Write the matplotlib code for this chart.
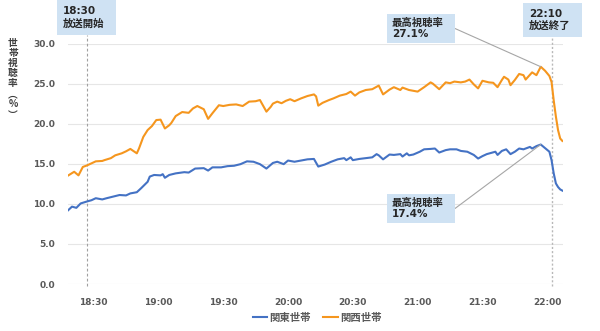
import numpy as np
import matplotlib.pyplot as plt
from matplotlib.patches import Rectangle

plt.rcParams['font.family'] = ['Noto Sans CJK JP', 'DejaVu Sans']

# 18:00からの経過時間(分)と世帯視聴率(%)
kanto_min = [18, 20, 22, 24, 27, 29, 31, 34, 36, 39, 42, 45, 47, 50, 52, 55, 56, 58,
             61, 62, 63, 65, 68, 72, 74, 77, 81, 83, 85, 89, 92, 95, 98, 101, 104,
             107, 110, 113, 115, 118, 120, 123, 126, 129, 132, 134, 137, 140, 143,
             146, 147, 149, 150, 153, 156, 159, 161, 162, 164, 167, 169, 172, 173,
             175, 176, 178, 181, 183, 186, 188, 190, 193, 195, 198, 200, 203, 206,
             208, 210, 212, 214, 216, 217, 219, 221, 223, 225, 227, 229, 232, 233,
             235, 237, 239, 241, 242, 243, 244, 245, 246, 247]
kanto_rate = [9.15, 9.65, 9.5, 10.05, 10.3, 10.45, 10.7, 10.55, 10.7, 10.9, 11.1, 11.05,
              11.3, 11.45, 11.95, 12.75, 13.4, 13.6, 13.55, 13.7, 13.25, 13.6, 13.8,
              13.95, 13.9, 14.4, 14.45, 14.15, 14.55, 14.55, 14.7, 14.75, 14.95, 15.3,
              15.25, 14.95, 14.4, 15.1, 15.25, 14.95, 15.4, 15.25, 15.4, 15.55, 15.6,
              14.65, 14.9, 15.25, 15.55, 15.7, 15.45, 15.8, 15.45, 15.6, 15.7, 15.8,
              16.2, 16.05, 15.55, 16.15, 16.1, 16.2, 15.9, 16.3, 16.05, 16.15, 16.5,
              16.8, 16.85, 16.9, 16.4, 16.7, 16.8, 16.8, 16.6, 16.5, 16.1, 15.65, 15.95,
              16.2, 16.35, 16.5, 16.1, 16.6, 16.8, 16.2, 16.5, 16.9, 16.8, 17.1, 16.9,
              17.2, 17.4, 16.95, 16.5, 15.45, 13.8, 12.55, 12.1, 11.8, 11.65]

kansai_min = [18, 21, 23, 25, 27, 29, 31, 34, 35, 38, 40, 43, 45, 47, 50, 51, 53, 55,
              57, 59, 61, 63, 65, 66, 68, 71, 74, 76, 78, 81, 83, 85, 88, 90, 93, 96,
              99, 102, 105, 107, 110, 112, 113, 115, 117, 119, 121, 123, 126, 129, 132,
              133, 134, 136, 139, 141, 144, 147, 149, 151, 153, 156, 159, 162, 164, 167,
              169, 172, 173, 176, 178, 180, 183, 186, 187, 190, 193, 195, 197, 200, 202,
              204, 206, 208, 210, 213, 215, 217, 219, 220, 222, 223, 225, 227, 229, 230,
              232, 233, 235, 237, 239, 241, 242, 243, 244, 245, 246, 247]
kansai_rate = [13.5, 14.0, 13.55, 14.6, 14.8, 15.05, 15.3, 15.35, 15.45, 15.7, 16.05,
               16.3, 16.55, 16.85, 16.3, 16.9, 18.35, 19.2, 19.7, 20.45, 20.5, 19.4,
               19.8, 20.1, 20.95, 21.45, 21.35, 21.9, 22.2, 21.8, 20.6, 21.3, 22.3, 22.2,
               22.35, 22.4, 22.2, 22.75, 22.8, 22.95, 21.5, 22.1, 22.5, 22.75, 22.55,
               22.85, 23.05, 22.8, 23.15, 23.45, 23.65, 23.4, 22.25, 22.6, 22.95, 23.15,
               23.5, 23.7, 24.0, 23.5, 23.9, 24.2, 24.3, 24.75, 23.65, 24.25, 24.55, 24.2,
               24.5, 24.2, 24.1, 24.0, 24.55, 25.15, 25.0, 24.3, 25.15, 25.05, 25.25,
               25.15, 25.25, 25.5, 24.9, 24.4, 25.35, 25.15, 25.1, 24.55, 25.45, 25.85,
               25.5, 24.8, 25.45, 26.2, 26.05, 25.5, 26.1, 26.4, 26.05, 27.1, 26.6, 25.95,
               25.2, 22.9, 20.9, 19.2, 18.15, 17.85]

tick_min = [30, 60, 90, 120, 150, 180, 210, 240]
tick_labels = ['18:30', '19:00', '19:30', '20:00', '20:30', '21:00', '21:30', '22:00']
y_ticks = [0, 5, 10, 15, 20, 25, 30]
ylabel_chars = ['世', '帯', '視', '聴', '率', '︵', '%', '︶']

start_min = 27   # 放送開始の線
end_min = 242    # 放送終了の線

blue = '#4472C4'
orange = '#F5961E'
box_color = '#CFE2F3'
gray = '#595959'
mix = ['DejaVu Sans', 'Noto Sans CJK JP']

W, H = 600, 331


def fx(x):
    return x / W


def fy(y):
    return 1 - y / H


fig = plt.figure(figsize=(6, 3.31), dpi=100)
ax = fig.add_axes([fx(67.7), fy(284), fx(563) - fx(67.7), fy(43.5) - fy(284)])

ax.plot(kanto_min, kanto_rate, color=blue, lw=1.5, label='関東世帯', zorder=3)
ax.plot(kansai_min, kansai_rate, color=orange, lw=1.5, label='関西世帯', zorder=3)

ax.set_xlim(18, 247.3)
ax.set_ylim(0, 30)
ax.set_xticks(tick_min)
ax.set_xticklabels(tick_labels)
ax.set_yticks(y_ticks)
ax.set_yticklabels(['%.1f' % v for v in y_ticks])
ax.grid(axis='y', color='#E6E6E6', lw=0.8)
ax.set_axisbelow(True)
for s in ax.spines.values():
    s.set_visible(False)
ax.tick_params(length=0, labelsize=6.5, labelcolor=gray)
ax.tick_params(axis='x', pad=10)
ax.tick_params(axis='y', pad=9)
for lab in ax.get_xticklabels() + ax.get_yticklabels():
    lab.set_fontweight('bold')
    lab.set_family('DejaVu Sans')

# 放送開始・終了の線
ax.plot([start_min, start_min], [-0.2, 31.05], color='#A0A0A0', lw=0.8,
        ls=(0, (2.5, 2)), clip_on=False, zorder=2)
ax.plot([end_min, end_min], [-0.2, 30.85], color='#B8B8B8', lw=1.0,
        ls=(0, (1.5, 1.5)), clip_on=False, zorder=2)

# 吹き出しの箱
boxes = [
    (57, 0, 116, 35, '18:30\n放送開始'),
    (522.7, 3, 581.7, 36.7, '22:10\n放送終了'),
]
for x0, y0, x1, y1, txt in boxes:
    fig.patches.append(Rectangle((fx(x0), fy(y1)), fx(x1) - fx(x0), fy(y0) - fy(y1),
                                 transform=fig.transFigure, facecolor=box_color,
                                 edgecolor='none', zorder=4))
    fig.text(fx(x0 + 6), fy((y0 + y1) / 2), txt, fontsize=7.5, fontweight='bold',
             family=mix, color='#262626', va='center', ha='left',
             linespacing=1.25, zorder=5)

# 最高視聴率
peaks = [
    (kansai_min, kansai_rate, (387, 14, 455, 43)),
    (kanto_min, kanto_rate, (386.7, 194, 455, 223)),
]
for xs, ys, (x0, y0, x1, y1) in peaks:
    i = int(np.argmax(ys))
    fig.patches.append(Rectangle((fx(x0), fy(y1)), fx(x1) - fx(x0), fy(y0) - fy(y1),
                                 transform=fig.transFigure, facecolor=box_color,
                                 edgecolor='none', zorder=4))
    fig.text(fx(x0 + 5), fy((y0 + y1) / 2), '最高視聴率\n%.1f%%' % ys[i], fontsize=7.5,
             fontweight='bold', family=mix, color='#262626', va='center', ha='left',
             linespacing=1.2, zorder=5)
    ax.annotate('', xy=(xs[i], ys[i]), xycoords='data',
                xytext=(fx(x1), fy((y0 + y1) / 2)), textcoords='figure fraction',
                arrowprops=dict(arrowstyle='-', color='#A6A6A6', lw=0.8,
                                shrinkA=0, shrinkB=0), zorder=4)

# 縦書きの軸ラベル
char_y = [43.3, 53.3, 63.3, 73.3, 83.3, 93.8, 104.3, 114.8]
for ch, cy in zip(ylabel_chars, char_y):
    fig.text(fx(13), fy(cy), ch, fontsize=7, fontweight='bold',
             color='#404040', ha='center', va='center')

fig.legend(loc='center', bbox_to_anchor=(fx(317), fy(318)), ncol=2, frameon=False,
           prop={'size': 7.5, 'weight': 'bold'}, handlelength=1.4,
           handletextpad=0.2, columnspacing=1.2, labelcolor=gray)

fig.savefig('out.png', dpi=100)
